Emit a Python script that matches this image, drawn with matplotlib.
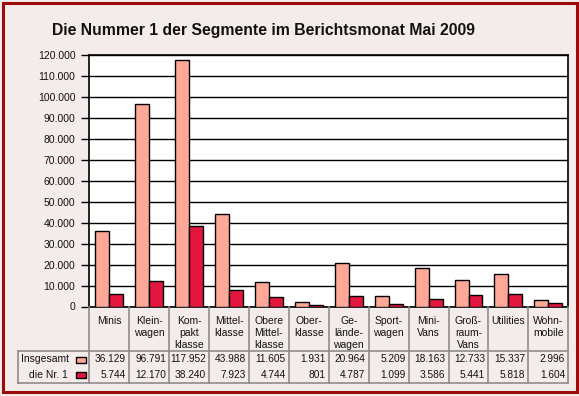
import matplotlib
matplotlib.use('Agg')
import matplotlib.pyplot as plt
from matplotlib.patches import Rectangle
from matplotlib.lines import Line2D
import matplotlib.transforms as mtransforms

title = 'Die Nummer 1 der Segmente im Berichtsmonat Mai 2009'
categories = ['Minis', 'Klein-\nwagen', 'Kom-\npakt\nklasse', 'Mittel-\nklasse',
              'Obere\nMittel-\nklasse', 'Ober-\nklasse', 'Ge-\nlände-\nwagen',
              'Sport-\nwagen', 'Mini-\nVans', 'Groß-\nraum-\nVans', 'Utilities',
              'Wohn-\nmobile']
insgesamt = [36129, 96791, 117952, 43988, 11605, 1931, 20964, 5209, 18163,
             12733, 15337, 2996]
nr1 = [5744, 12170, 38240, 7923, 4744, 801, 4787, 1099, 3586, 5441, 5818, 1604]
series_names = ['Insgesamt', 'die Nr. 1']
colors = ['#ffa898', '#e3173d']
yticks = list(range(0, 120001, 10000))

W, H = 579, 396
bg = '#f4ecea'
border = '#9c0a0a'
tablegray = '#8c8c8c'
txt = '#111111'


def fy(y):
    # pixel row -> figure fraction
    return 1 - y / H


def fx(x):
    return x / W


def fmt(v):
    return f'{v:,}'.replace(',', '.')


plt.rcParams['font.family'] = ['Liberation Sans', 'DejaVu Sans']
fig = plt.figure(figsize=(W / 100, H / 100), dpi=100, facecolor=bg)

# outer frame
fig.patches.append(Rectangle((fx(2.5), fy(391.5)), fx(574.5), 389 / H, transform=fig.transFigure,
                             fill=False, edgecolor=border, linewidth=2.2))

fig.text(fx(263), fy(34.5), title, ha='center', va='baseline', fontsize=11.3,
         fontweight='bold', color=txt)

left, right, top, bottom = 89.3, 568.3, 55.3, 306.5
ax = fig.add_axes([fx(left), fy(bottom), fx(right - left), (bottom - top) / H])
ax.set_facecolor('white')
n = len(categories)
xs = list(range(n))
w = 0.35
ax.bar([x - w / 2 for x in xs], insgesamt, w, color=colors[0], edgecolor='black',
       linewidth=1, zorder=3)
ax.bar([x + w / 2 for x in xs], nr1, w, color=colors[1], edgecolor='black',
       linewidth=1, zorder=3)
ax.set_xlim(-0.5, n - 0.5)
ax.set_ylim(0, 120000)
ax.set_yticks(yticks)
ax.set_yticklabels([fmt(v) for v in yticks], fontsize=7.5, color=txt)
ax.yaxis.grid(True, color='black', linewidth=1, zorder=0)
ax.set_xticks([])
ax.tick_params(axis='y', length=5.5, width=1, pad=4.5)
for s in ax.spines.values():
    s.set_linewidth(1.2)

# data table below the plot
tr = mtransforms.blended_transform_factory(ax.transData, fig.transFigure)
row_top, row1, row2, row_bot = bottom, 351, 367, 383
lines_kw = dict(color=tablegray, linewidth=1.2)
for i in range(n + 1):
    fig.add_artist(Line2D([i - 0.5, i - 0.5], [fy(row_top), fy(row_bot)], transform=tr, **lines_kw))
fig.add_artist(Line2D([fx(18), fx(right)], [fy(row1), fy(row1)], transform=fig.transFigure, **lines_kw))
fig.add_artist(Line2D([fx(18), fx(right)], [fy(row_bot), fy(row_bot)], transform=fig.transFigure, **lines_kw))
fig.add_artist(Line2D([fx(18), fx(18)], [fy(row1), fy(row_bot)], transform=fig.transFigure, **lines_kw))

yc1, yc2 = 359.5, 375
for i, cat in enumerate(categories):
    fig.text(i, fy(316), cat, transform=tr, ha='center', va='top', fontsize=7.5,
             linespacing=1.22, color=txt)
    fig.text(i + 0.42, fy(yc1), fmt(insgesamt[i]), transform=tr,
             ha='right', va='center', fontsize=7.3, color=txt)
    fig.text(i + 0.42, fy(yc2), fmt(nr1[i]), transform=tr,
             ha='right', va='center', fontsize=7.3, color=txt)

fig.text(fx(21), fy(yc1), series_names[0], ha='left', va='center', fontsize=7.5, color=txt)
fig.text(fx(68), fy(yc2), series_names[1], ha='right', va='center', fontsize=7.5, color=txt)
for k, yc in enumerate([yc1, yc2]):
    fig.patches.append(Rectangle((fx(76), fy(yc + 3)), fx(10), 6 / H, transform=fig.transFigure,
                                 facecolor=colors[k], edgecolor='black', linewidth=1))

fig.savefig('out.png', dpi=100, facecolor=bg)
